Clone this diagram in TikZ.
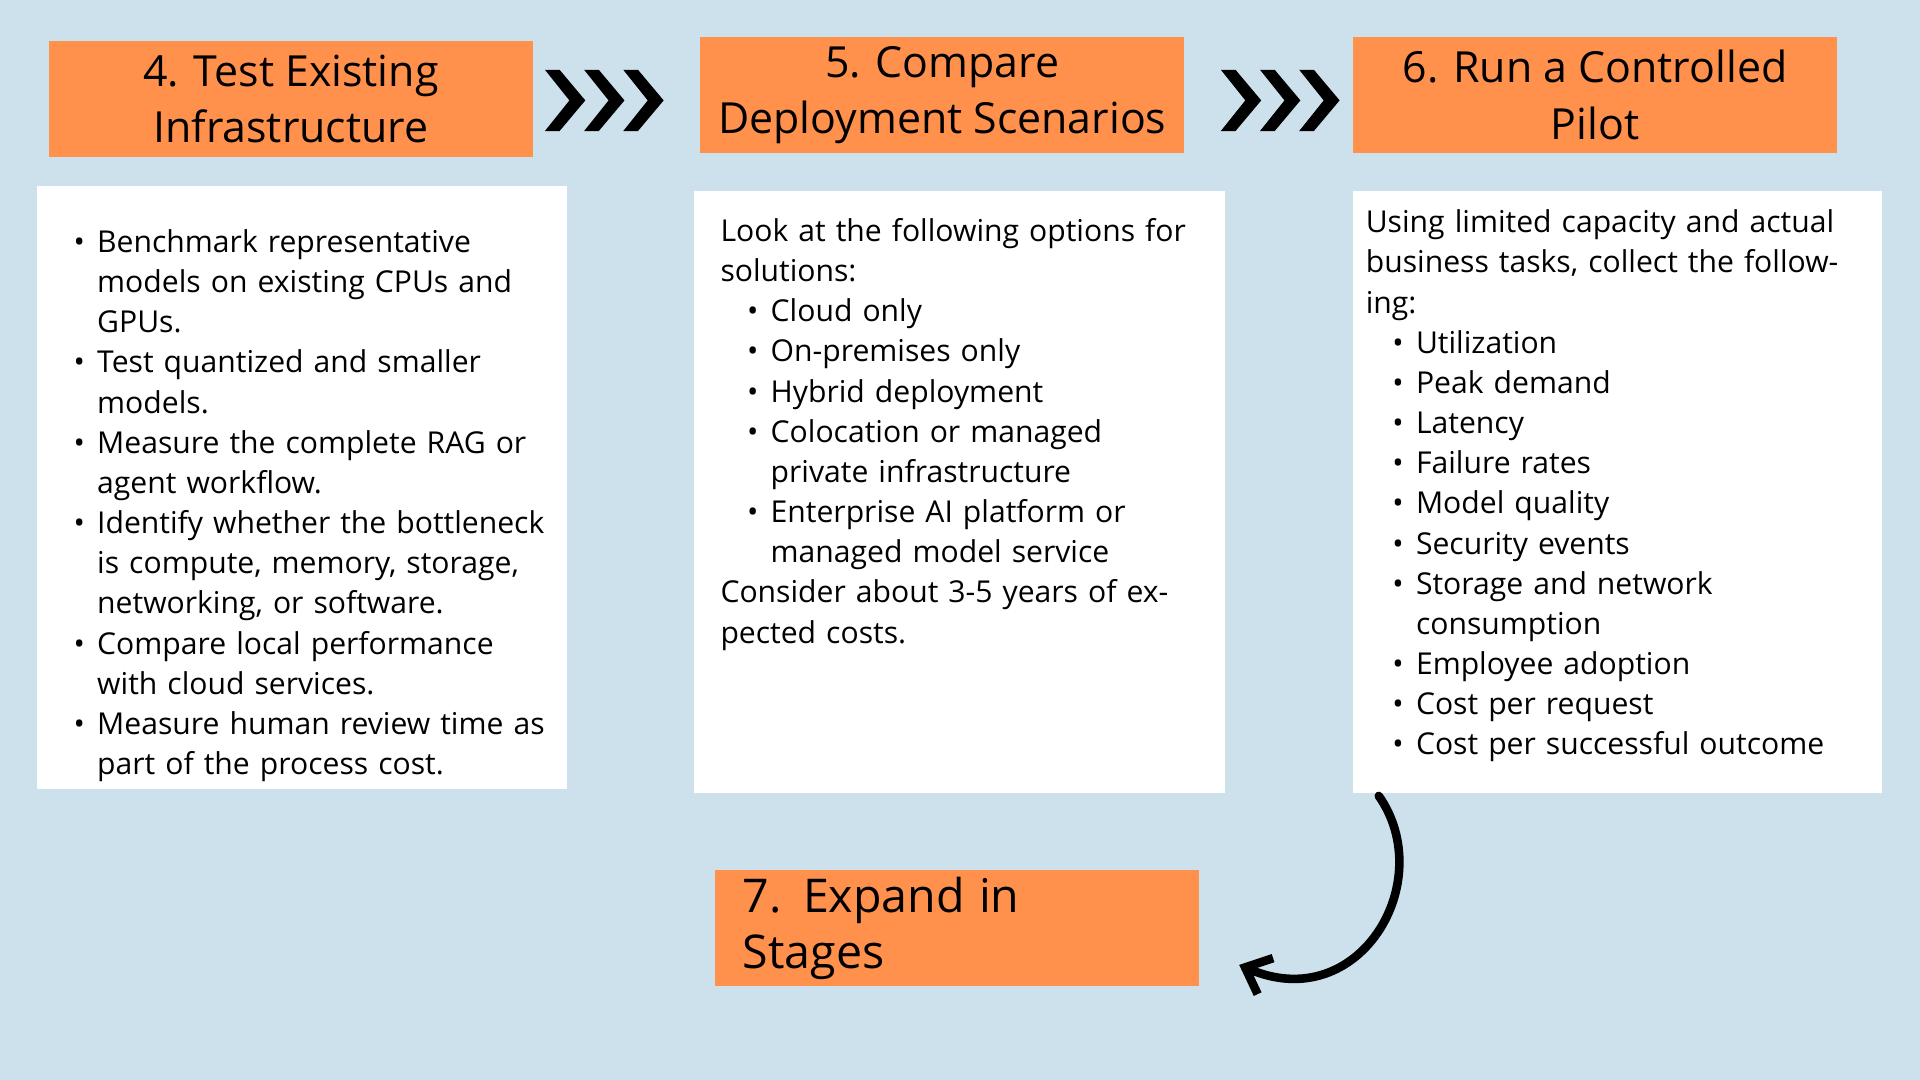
\documentclass[tikz,border=0pt]{standalone}
\usepackage{fontspec}
\setmainfont{Open Sans}
\usepackage{enumitem}
\usetikzlibrary{positioning, arrows.meta}
\definecolor{bgblue}{RGB}{205,225,236}
\definecolor{stepor}{RGB}{255,145,77}
\setlist[itemize]{leftmargin=10.5pt, itemsep=0pt, topsep=0pt, parsep=0pt, label=\textbullet}
\tikzset{
  stage/.style = {fill=stepor, minimum width=197.5pt, minimum height=47.5pt, align=center, font=\fontsize{17.5}{23}\selectfont, inner sep=0pt},
  panel/.style = {fill=white},
  body/.style = {anchor=north west, align=left, font=\fontsize{12.3}{16.4}\selectfont, inner sep=0pt},
  chev/.style = {fill=black}
}
\newcommand{\chevrons}[1]{%
  \foreach \k in {0,1,2}{
    \fill[chev] ({#1+32*\k},57) -- ({#1+32*\k+12},57) -- ({#1+32*\k+33},82) -- ({#1+32*\k+12},107) -- ({#1+32*\k},107) -- ({#1+32*\k+20},82) -- cycle;
  }}
\begin{document}
\begin{tikzpicture}[x=0.5pt, y=-0.5pt]
\fill[bgblue] (0,0) rectangle (1568,882);
\useasboundingbox (0,0) rectangle (1568,882);

% step headers
\node[stage] (test) at (237.5,81) {4. Test Existing\\Infrastructure};
\node[stage] (compare) at (769.5,77.5) {5. Compare\\Deployment Scenarios};
\node[stage] (pilot) at (1302.5,77.5) {6. Run a Controlled\\Pilot};
\node[stage, align=left, text width=175pt] (expand) at (781.5,758) {\fontsize{19}{23}\selectfont 7. Expand in Stages};

\chevrons{445}
\chevrons{997}

% panels
\fill[panel] (30,152) rectangle (463,644);
\fill[panel] (567,156) rectangle (1000,648);
\fill[panel] (1105,156) rectangle (1537,648);

\node[body, text width=197pt] (testtxt) at (58,173) {%
\begin{itemize}
\item Benchmark representative models on existing CPUs and GPUs.
\item Test quantized and smaller models.
\item Measure the complete RAG or agent workflow.
\item Identify whether the bottleneck is compute, memory, storage, networking, or software.
\item Compare local performance with cloud services.
\item Measure human review time as part of the process cost.
\end{itemize}};

\node[body, text width=196pt] (comparetxt) at (588,178) {%
Look at the following options for solutions:
\begin{itemize}[leftmargin=20.5pt]
\item Cloud only
\item On-premises only
\item Hybrid deployment
\item Colocation or managed private infrastructure
\item Enterprise AI platform or managed model service
\end{itemize}
Consider about 3-5 years of expected costs.};

\node[body, text width=200pt] (pilottxt) at (1115,171) {%
Using limited capacity and actual business tasks, collect the following:
\begin{itemize}[leftmargin=20.5pt]
\item Utilization
\item Peak demand
\item Latency
\item Failure rates
\item Model quality
\item Security events
\item Storage and network consumption
\item Employee adoption
\item Cost per request
\item Cost per successful outcome
\end{itemize}};

% curved arrow
\coordinate (arrowstart) at (1126,650);
\coordinate (arrowend) at (1012,788);
\draw[line width=3.5pt, line cap=round, -{Straight Barb[length=9pt, width=16pt]}] (arrowstart) .. controls (1175,720) and (1110,830) .. (arrowend);
\end{tikzpicture}
\end{document}
